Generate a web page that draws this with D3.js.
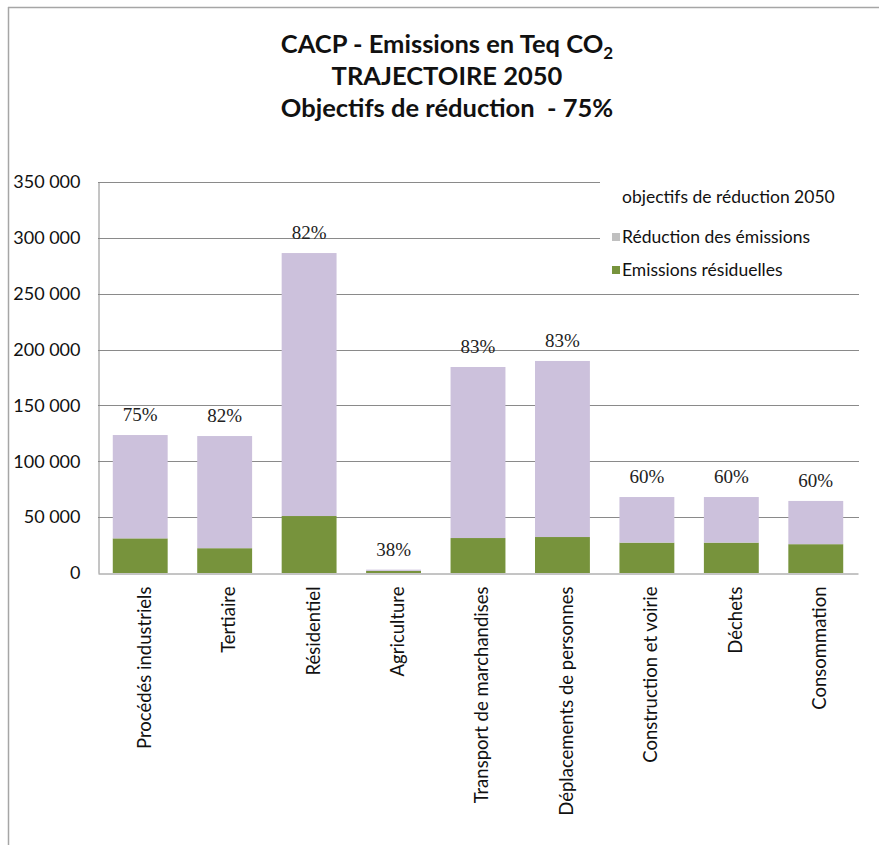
<!DOCTYPE html>
<html>
<head>
<meta charset="utf-8">
<script src="https://cdn.jsdelivr.net/npm/d3@7"></script>
<style>
  body { margin: 0; background: #fff; }
  svg { display: block; }
</style>
</head>
<body>
<div id="chart"></div>
<script>
const categories = ['Procédés industriels', 'Tertiaire', 'Résidentiel', 'Agriculture',
                    'Transport de marchandises', 'Déplacements de personnes',
                    'Construction et voirie', 'Déchets', 'Consommation']
const residual  = [31000, 22200, 51000, 1900, 31300, 32200, 27200, 27200, 25800]
const reduction = [92500, 100400, 235400, 1100, 153100, 157600, 40800, 40800, 38700]
const objectives = ['75%', '82%', '82%', '38%', '83%', '83%', '60%', '60%', '60%']
const yTicks = [0, 50000, 100000, 150000, 200000, 250000, 300000, 350000]

const W = 879, H = 845
const margin = { top: 182, right: 20, bottom: 272, left: 98 }
const plotBottom = H - margin.bottom

const data = categories.map((c, i) => ({ cat: c, residual: residual[i], reduction: reduction[i], pct: objectives[i] }))

const green = '#77933c', lavender = '#ccc1dc', grey = '#c0c0c0'

const svg = d3.select('#chart').append('svg')
  .attr('width', W).attr('height', H)

// frame
svg.append('line').attr('x1', 8.5).attr('x2', 8.5).attr('y1', 7).attr('y2', H)
  .attr('stroke', '#a6a6a6').attr('stroke-width', 1.5)
svg.append('line').attr('x1', 8).attr('x2', W).attr('y1', 7.5).attr('y2', 7.5)
  .attr('stroke', '#a6a6a6').attr('stroke-width', 1.5)

// title
const title = svg.append('text')
  .attr('x', 447).attr('text-anchor', 'middle')
  .style('font-family', 'Lato, sans-serif').style('font-weight', 'bold')
  .style('font-size', '25.5px').style('white-space', 'pre').attr('fill', '#111')
const t1 = title.append('tspan').attr('x', 447).attr('y', 53)
t1.append('tspan').text('CACP - Emissions en Teq CO')
t1.append('tspan').attr('dy', 6).style('font-size', '17px').text('2')
title.append('tspan').attr('x', 447).attr('y', 85).text('TRAJECTOIRE 2050')
title.append('tspan').attr('x', 447).attr('y', 117).text('Objectifs de réduction  - 75%')

const x = d3.scaleBand()
  .domain(categories)
  .range([margin.left, W - margin.right - 1])
  .paddingInner(0.35)
  .paddingOuter(0.175)

const y = d3.scaleLinear()
  .domain([0, 350000])
  .range([plotBottom, margin.top])

// gridlines
svg.append('g').classed('grid', true)
  .selectAll('line')
  .data(yTicks.slice(1)).enter()
  .append('line')
  .attr('x1', margin.left).attr('x2', W - margin.right)
  .attr('y1', d => Math.round(y(d)) + 0.5).attr('y2', d => Math.round(y(d)) + 0.5)
  .attr('stroke', '#8a8a8a').attr('stroke-width', 1)

// legend background hides gridlines behind it
svg.append('rect').attr('x', 600).attr('y', 174).attr('width', 268).attr('height', 110)
  .attr('fill', '#fff')

// stacked bars
const stack = d3.stack().keys(['residual', 'reduction'])
const series = stack(data)
const colors = { residual: green, reduction: lavender }

svg.append('g').classed('bars', true)
  .selectAll('g')
  .data(series).enter()
  .append('g')
  .attr('fill', s => colors[s.key])
  .selectAll('rect')
  .data(s => s).enter()
  .append('rect')
  .attr('x', d => x(d.data.cat))
  .attr('width', x.bandwidth())
  .attr('y', d => y(d[1]))
  .attr('height', d => y(d[0]) - y(d[1]))

// percentage labels
svg.append('g').classed('pct', true)
  .selectAll('text')
  .data(data).enter()
  .append('text')
  .attr('x', d => x(d.cat) + x.bandwidth() / 2)
  .attr('y', d => y(d.residual + d.reduction) - 14)
  .attr('text-anchor', 'middle')
  .style('font-family', '"Liberation Serif", serif')
  .style('font-size', '19px')
  .attr('fill', '#222')
  .text(d => d.pct)

// axes
const yAxis = d3.axisLeft(y)
  .tickValues(yTicks)
  .tickSize(0)
  .tickPadding(18)
  .tickFormat(d => d3.format(',')(d).replace(/,/g, ' '))
const yg = svg.append('g').attr('transform', 'translate(' + (margin.left + 0.5) + ', 0)').call(yAxis)
yg.select('.domain').attr('stroke', '#8a8a8a')
yg.selectAll('text')
  .style('font-family', 'Lato, sans-serif').style('font-size', '18px').attr('fill', '#111')

const xAxis = d3.axisBottom(x).tickSize(0)
const xg = svg.append('g').attr('transform', 'translate(0, ' + (plotBottom + 0.5) + ')').call(xAxis)
xg.select('.domain').attr('stroke', '#8a8a8a')
xg.selectAll('text')
  .attr('transform', 'rotate(-90)')
  .attr('text-anchor', 'end')
  .attr('x', -13).attr('y', 4).attr('dy', '0.35em')
  .style('font-family', 'Lato, sans-serif').style('font-size', '18.5px').attr('fill', '#111')

// legend
const legend = svg.append('g').classed('legend', true)
  .style('font-family', 'Lato, sans-serif').style('font-size', '17.5px').attr('fill', '#111')
legend.append('text').attr('x', 622).attr('y', 203).text('objectifs de réduction 2050')
const legendItems = [
  { label: 'Réduction des émissions', color: grey },
  { label: 'Emissions résiduelles', color: green }
]
const li = legend.selectAll('g.item')
  .data(legendItems).enter()
  .append('g').classed('item', true)
  .attr('transform', (d, i) => 'translate(612, ' + (237 + i * 33) + ')')
li.append('rect').attr('x', 0).attr('y', -4).attr('width', 8).attr('height', 8).attr('fill', d => d.color)
li.append('text').attr('x', 10).attr('y', 0).attr('dy', '0.35em').text(d => d.label)
</script>
</body>
</html>
